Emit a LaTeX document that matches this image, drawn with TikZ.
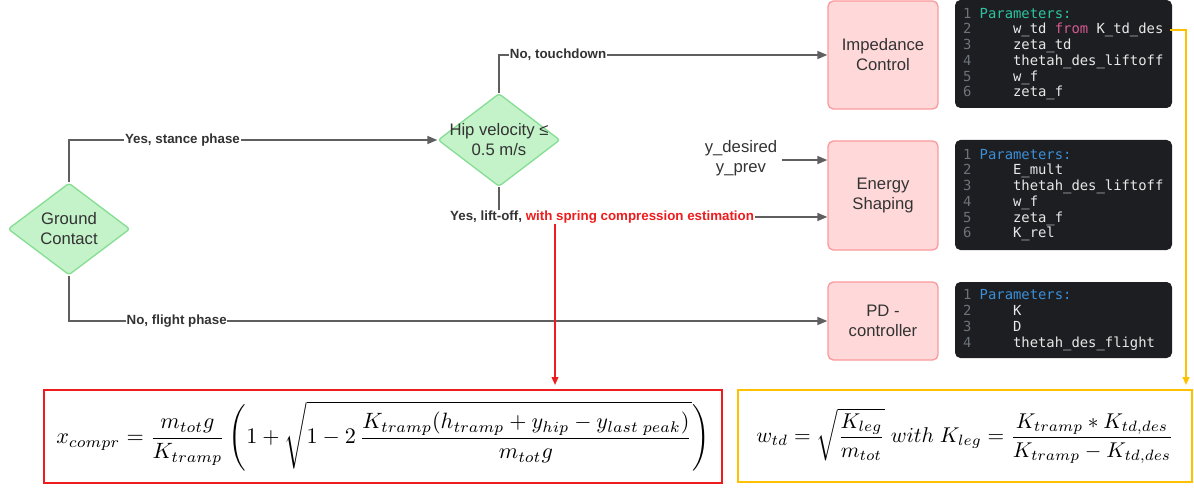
\documentclass[tikz,border=0pt]{standalone}
\usepackage{fontspec}
\setmainfont{Liberation Sans}
\newfontfamily\codefont{DejaVu Sans Mono}
\usetikzlibrary{shapes.geometric,arrows.meta,calc}
\definecolor{txt}{HTML}{333333}
\definecolor{lineg}{HTML}{5F5F5F}
\definecolor{diafill}{HTML}{C4F2C9}
\definecolor{diadraw}{HTML}{86DE95}
\definecolor{boxfill}{HTML}{FFD9DA}
\definecolor{boxdraw}{HTML}{FB9A9C}
\definecolor{codebg}{HTML}{1C1E21}
\definecolor{codetxt}{HTML}{E8E8E8}
\definecolor{codeno}{HTML}{6E737A}
\definecolor{kwteal}{HTML}{2EC4A2}
\definecolor{kwblue}{HTML}{3C8FD8}
\definecolor{kwpink}{HTML}{D65A90}
\definecolor{redl}{HTML}{EE1C1C}
\definecolor{orl}{HTML}{FFC000}
\newcommand\cs{\phantom{x}}
\newcommand\cind{\phantom{xxxx}}
\newcommand\cnum[1]{{\color{codeno}#1}\cs}
\tikzset{
 dia/.style={diamond, draw=diadraw, fill=diafill, line width=1pt, rounded corners=2pt, inner sep=0pt},
 ctrl/.style={draw=boxdraw, fill=boxfill, line width=1pt, rounded corners=4pt, minimum width=82.5pt, align=center, font=\fontsize{12.5}{15}\selectfont, text=txt},
 code/.style={fill=codebg, rounded corners=4pt, minimum width=162.75pt, text width=150.75pt, inner xsep=6pt, align=left, font=\codefont\fontsize{10.4}{11.8}\selectfont, text=codetxt},
 conn/.style={draw=lineg, line width=1.1pt, -{Triangle[length=7.5pt,width=6pt]}},
 redarrow/.style={draw=redl, line width=1.1pt, -{Triangle[length=6pt,width=5pt]}},
 orarrow/.style={draw=orl, line width=1.5pt, -{Triangle[length=6pt,width=5pt]}},
 lbl/.style={fill=white, inner sep=0.5pt, font=\bfseries\fontsize{10}{12}\selectfont, text=txt},
 dtext/.style={font=\fontsize{12.5}{15}\selectfont, text=txt, align=center},
}
\begin{document}
\begin{tikzpicture}[x=0.75pt,y=-0.75pt]
\useasboundingbox (0,0) rectangle (1194,488);
% decisions
\node[dia, minimum width=91.5pt, minimum height=69pt, label={[dtext]center:Ground\\Contact}] (gc) at (69,229) {};
\node[dia, minimum width=91.5pt, minimum height=69.75pt, label={[dtext]center:Hip velocity ≤\\0.5 m/s}] (hip) at (499,140) {};
% controllers
\node[ctrl, minimum height=81pt] (imp) at (883,55) {Impedance\\Control};
\node[ctrl, minimum height=81.75pt] (en) at (883,195.5) {Energy\\Shaping};
\node[ctrl, minimum height=58.5pt] (pd) at (883,321) {PD -\\controller};
% code blocks
\node[code, minimum height=81pt] (c1) at (1063.5,54) {\cnum{1}{\color{kwteal}Parameters:}\\
\cnum{2}\cind w\_td\cs{\color{kwpink}from}\cs K\_td\_des\\
\cnum{3}\cind zeta\_td\\
\cnum{4}\cind thetah\_des\_liftoff\\
\cnum{5}\cind w\_f\\
\cnum{6}\cind zeta\_f};
\node[code, minimum height=82.5pt] (c2) at (1063.5,195) {\cnum{1}{\color{kwblue}Parameters:}\\
\cnum{2}\cind E\_mult\\
\cnum{3}\cind thetah\_des\_liftoff\\
\cnum{4}\cind w\_f\\
\cnum{5}\cind zeta\_f\\
\cnum{6}\cind K\_rel};
\node[code, minimum height=57pt] (c3) at (1063.5,320) {\cnum{1}{\color{kwblue}Parameters:}\\
\cnum{2}\cind K\\
\cnum{3}\cind D\\
\cnum{4}\cind thetah\_des\_flight};
% inputs
\node[dtext] (yd) at (741,158) {y\_desired\\y\_prev};
% formulas
\node[draw=redl, line width=1.5pt, minimum width=508.5pt, minimum height=69.75pt] (fr) at (383,436.5) {\resizebox{490pt}{!}{$\displaystyle x_{compr}=\frac{m_{tot}g}{K_{tramp}}\left(1+\sqrt{1-2\,\frac{K_{tramp}(h_{tramp}+y_{hip}-y_{last\;peak})}{m_{tot}g}}\right)$}};
\node[draw=orl, line width=1.5pt, minimum width=340.5pt, minimum height=69pt] (ob) at (965,436) {\resizebox{313pt}{!}{$\displaystyle w_{td}=\sqrt{\frac{K_{leg}}{m_{tot}}}\;with\;K_{leg}=\frac{K_{tramp}*K_{td,des}}{K_{tramp}-K_{td,des}}$}};
% connectors
\draw[conn] (gc.north) |- (hip.west) node[lbl, pos=0.654] {Yes, stance phase};
\draw[conn] (gc.south) |- (pd.west) node[lbl, pos=0.571] {No, flight phase};
\draw[conn] (hip.north) |- (imp.west) node[lbl, pos=0.59] {No, touchdown};
\draw[conn] (hip.south) |- ([yshift=-16.1pt]en.west) node[lbl, pos=0.657] (lift) {Yes, lift-off, \textcolor{redl}{with spring compression estimation}};
\coordinate (ein) at ([yshift=26.6pt]en.west);
\draw[conn] (yd.east |- ein) -- (ein);
\coordinate (rs) at (555,224);
\draw[redarrow] (rs) -- ([yshift=3pt]rs |- fr.north);
\coordinate (os) at (1170,30);
\draw[orarrow] (os) -| ([xshift=-5.25pt,yshift=3pt]ob.north east);
\end{tikzpicture}
\end{document}
